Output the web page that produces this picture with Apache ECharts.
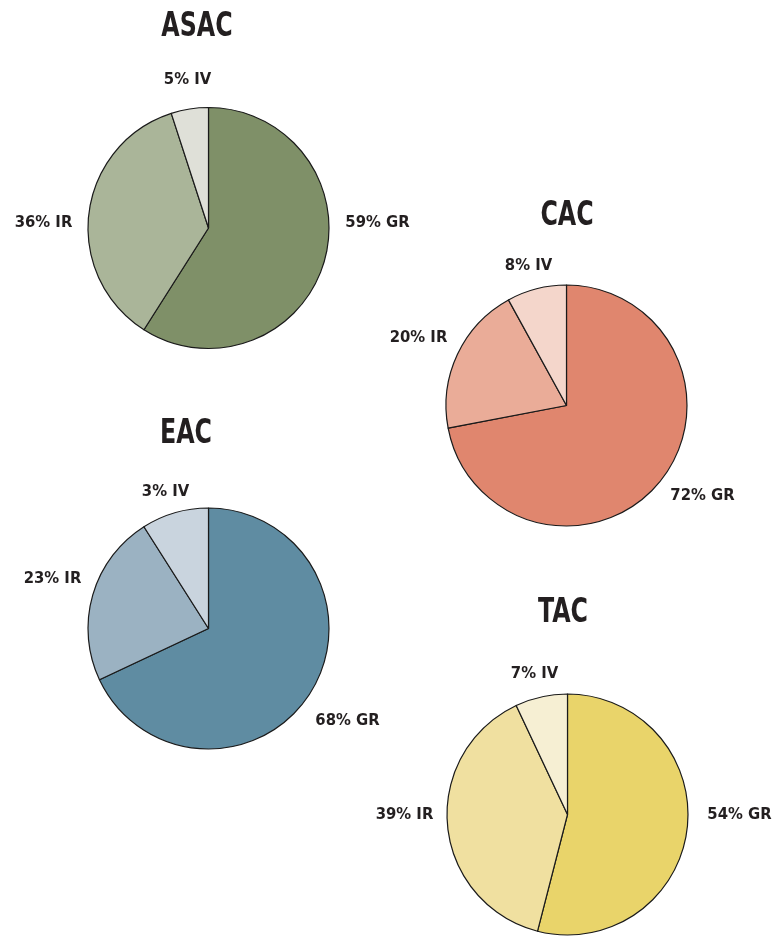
<!DOCTYPE html>
<html><head><meta charset="utf-8">
<script src="https://cdn.jsdelivr.net/npm/echarts@6/dist/echarts.min.js"></script>
<style>html,body{margin:0;padding:0;background:#fff}#c{width:774px;height:936px}</style>
</head><body><div id="c"></div>
<script>
// Data
const groups = ['ASAC', 'CAC', 'EAC', 'TAC'];
const categories = ['GR', 'IR', 'IV'];
const asacValues = [59, 36, 5];
const cacValues = [72, 20, 8];
const eacValues = [68, 23, 9];      // slice as drawn
const tacValues = [54, 39, 7];
const asacLabels = ['59%', '36%', '5%'];
const cacLabels = ['72%', '20%', '8%'];
const eacLabels = ['68%', '23%', '3%']; // label as printed
const tacLabels = ['54%', '39%', '7%'];

const values = [asacValues, cacValues, eacValues, tacValues];
const labels = [asacLabels, cacLabels, eacLabels, tacLabels];

// Styling / layout
const palettes = [
  ['#7f9068', '#aab599', '#dfe0d8'],
  ['#e0866e', '#eaac98', '#f4d6cb'],
  ['#5f8ca2', '#9bb2c2', '#c9d4de'],
  ['#e9d46a', '#f0e0a0', '#f6efd3']
];
const centers = [[208.5, 228], [566.5, 405.5], [208.5, 628.5], [567.5, 814.5]];
const titlePos = [[197, 27], [567, 216], [186, 434], [563, 613]];
const labelOffsets = [
  [[169, -5], [-165, -5], [-21, -148]],
  [[136, 90], [-148, -68], [-38, -140]],
  [[139, 92], [-156, -50], [-43, -137]],
  [[172, 0], [-163, 0], [-33, -141]]
];
const FONT = '"DejaVu Sans Condensed",sans-serif';
const R = 120.5;

const chart = echarts.init(document.getElementById('c'), null, {renderer: 'canvas'});
const option = {
  animation: false,
  graphic: groups.map((g, i) => ({
    type: 'text', x: titlePos[i][0], y: titlePos[i][1], scaleX: 0.8,
    style: {
      text: g, align: 'center', verticalAlign: 'middle',
      font: 'bold 33px ' + FONT, fill: '#231f20'
    }
  })),
  series: groups.map((g, i) => ({
    type: 'pie', name: g,
    center: centers[i], radius: [0, R],
    startAngle: 90, clockwise: true,
    avoidLabelOverlap: false,
    itemStyle: {borderColor: '#1a1a1a', borderWidth: 1.2},
    labelLine: {show: false},
    label: {
      show: true, position: 'outside',
      fontFamily: FONT, fontWeight: 'bold', fontSize: 16.5, color: '#231f20',
      formatter: p => labels[i][p.dataIndex] + ' ' + p.name
    },
    labelLayout: p => ({
      x: centers[i][0] + labelOffsets[i][p.dataIndex][0],
      y: centers[i][1] + labelOffsets[i][p.dataIndex][1],
      align: 'center', verticalAlign: 'middle'
    }),
    data: categories.map((c, k) => ({
      name: c, value: values[i][k], itemStyle: {color: palettes[i][k]}
    }))
  }))
};
chart.setOption(option);
</script>
</body></html>
